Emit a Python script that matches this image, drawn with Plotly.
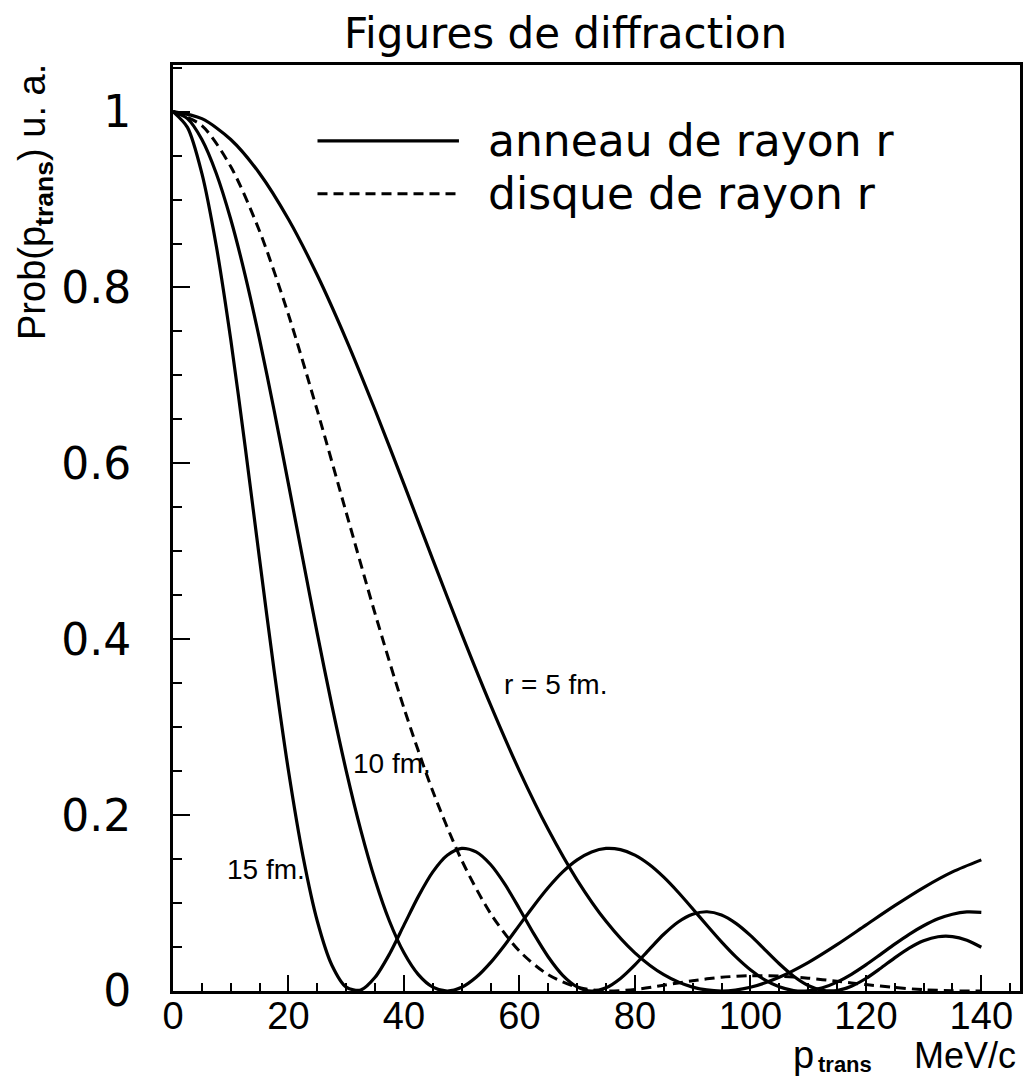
import plotly.graph_objects as go

# ---- data ----
q_fine = [0, 2.5, 5, 7.5, 10, 12.5, 15, 17.5, 20, 22.5, 25, 27.5, 30, 32.5, 35, 37.5,
          40, 42.5, 45, 47.5, 50, 52.5, 55, 57.5, 60, 62.5, 65, 67.5, 70, 72.5, 75,
          77.5, 80, 82.5, 85, 87.5, 90, 92.5, 95, 97.5, 100, 102.5, 105, 107.5, 110,
          112.5, 115, 117.5, 120, 122.5, 125, 127.5, 130, 132.5, 135, 137.5, 140]
q_coarse = [0, 5, 10, 15, 20, 25, 30, 35, 40, 45, 50, 55, 60, 65, 70, 75, 80, 85, 90,
            95, 100, 105, 110, 115, 120, 125, 130, 135, 140]

ring_15fm = [1.0, 0.9821, 0.9297, 0.8471, 0.7408, 0.6189, 0.4906, 0.3651, 0.2504, 0.1537,
             0.0793, 0.0296, 0.0044, 0.0011, 0.0156, 0.0421, 0.0749, 0.1076, 0.1354, 0.1543,
             0.1621, 0.1582, 0.1438, 0.1212, 0.0936, 0.0649, 0.0387, 0.0179, 0.0047, 0.0000,
             0.0036, 0.0143, 0.0297, 0.0474, 0.0645, 0.0785, 0.0873, 0.0901, 0.0864, 0.0769,
             0.0632, 0.0471, 0.0310, 0.0168, 0.0063, 0.0008, 0.0006, 0.0054, 0.0142, 0.0256,
             0.0377, 0.0488, 0.0571, 0.0617, 0.0619, 0.0577, 0.0498]
ring_10fm = [1.0, 0.9920, 0.9683, 0.9297, 0.8776, 0.8139, 0.7408, 0.6607, 0.5764, 0.4906,
             0.4061, 0.3253, 0.2504, 0.1836, 0.1262, 0.0793, 0.0434, 0.0186, 0.0044, 0.0000,
             0.0042, 0.0156, 0.0323, 0.0527, 0.0749, 0.0970, 0.1176, 0.1354, 0.1491, 0.1581,
             0.1621, 0.1607, 0.1545, 0.1438, 0.1294, 0.1123, 0.0936, 0.0744, 0.0558, 0.0387,
             0.0241, 0.0126, 0.0047, 0.0006, 0.0003, 0.0036, 0.0101, 0.0190, 0.0297, 0.0414,
             0.0533, 0.0645, 0.0742, 0.0821, 0.0873, 0.0899, 0.0895]
ring_5fm = [1.0, 0.9920, 0.9683, 0.9297, 0.8776, 0.8139, 0.7408, 0.6607, 0.5764, 0.4906,
            0.4061, 0.3253, 0.2504, 0.1836, 0.1262, 0.0793, 0.0434, 0.0186, 0.0044, 0.0000,
            0.0042, 0.0156, 0.0323, 0.0527, 0.0749, 0.0970, 0.1176, 0.1354, 0.1491]
disk_10fm = [1.0, 0.9841, 0.9375, 0.8640, 0.7691, 0.6599, 0.5441, 0.4291, 0.3217, 0.2271,
             0.1487, 0.0882, 0.0454, 0.0184, 0.0044, 0.0000, 0.0018, 0.0065, 0.0117, 0.0156,
             0.0174, 0.0169, 0.0146, 0.0111, 0.0073, 0.0040, 0.0015, 0.0002, 0.0000]

x_ticks = [0, 20, 40, 60, 80, 100, 120, 140]
y_ticks = [0, 0.2, 0.4, 0.6, 0.8, 1.0]
y_ticktext = ["0", "0.2", "0.4", "0.6", "0.8", "1"]

curve_labels = [("r = 5 fm.", 56.9, 0.348), ("10 fm.", 30.9, 0.259), ("15 fm.", 9.0, 0.138)]

# ---- figure ----
fig = go.Figure()
line_solid = dict(color="black", width=3.2, shape="spline", smoothing=0.8)
fig.add_trace(go.Scatter(x=q_fine, y=ring_15fm, mode="lines", line=line_solid, showlegend=False))
fig.add_trace(go.Scatter(x=q_fine, y=ring_10fm, mode="lines", line=line_solid, showlegend=False))
fig.add_trace(go.Scatter(x=q_coarse, y=ring_5fm, mode="lines", line=line_solid, showlegend=False))
fig.add_trace(go.Scatter(x=q_coarse, y=disk_10fm, mode="lines",
                         line=dict(color="black", width=3.0, dash="10px,6px", shape="spline", smoothing=0.8),
                         showlegend=False))

sans = "Liberation Sans, Arial, sans-serif"
gothic = "DejaVu Sans, sans-serif"
tick_font_x = dict(family=sans, size=38, color="black")
tick_font_y = dict(family=gothic, size=44, color="black")

fig.update_xaxes(range=[0, 146.7], showline=True, linecolor="black", linewidth=2.6, mirror=True,
                 ticks="inside", tickvals=x_ticks, ticklen=16, tickwidth=2, tickcolor="black",
                 minor=dict(dtick=5, tick0=0, ticks="inside", ticklen=8, tickwidth=1.6, tickcolor="black"),
                 showgrid=False, zeroline=False, tickfont=tick_font_x, ticklabelstandoff=-10)
fig.update_yaxes(range=[0, 1.053], showline=True, linecolor="black", linewidth=3, mirror=True,
                 ticks="inside", tickvals=y_ticks, ticktext=y_ticktext, ticklen=17, tickwidth=2,
                 tickcolor="black",
                 minor=dict(dtick=0.05, tick0=0, ticks="inside", ticklen=9, tickwidth=1.6, tickcolor="black"),
                 showgrid=False, zeroline=False, tickfont=tick_font_y, ticklabelstandoff=30)

annotations = [
    dict(text="Figures de diffraction", x=0.4635, y=1.034, xref="paper", yref="paper",
         xanchor="center", yanchor="middle", showarrow=False, font=dict(family=gothic, size=42, color="black")),
    dict(text="Prob(p<sub><b>trans</b></sub>) u. a.", x=-0.163, y=0.852, xref="paper", yref="paper",
         xanchor="center", yanchor="middle", textangle=-90, showarrow=False,
         font=dict(family=sans, size=38, color="black")),
    # x-axis title: p_trans MeV/c (subscript drawn as its own small bold text)
    dict(text="MeV/c", x=0.9976, y=-0.0935, xref="paper", yref="paper",
         xanchor="right", yanchor="bottom", showarrow=False, font=dict(family=sans, size=36, color="black")),
    dict(text="p", x=0.7588, y=-0.0935, xref="paper", yref="paper",
         xanchor="right", yanchor="bottom", showarrow=False, font=dict(family=sans, size=38, color="black")),
    dict(text="<b>trans</b>", x=0.7595, y=-0.0945, xref="paper", yref="paper",
         xanchor="left", yanchor="bottom", showarrow=False, font=dict(family=sans, size=22, color="black")),
    dict(text="anneau de rayon r", x=0.37, y=0.918, xref="paper", yref="paper",
         xanchor="left", yanchor="middle", showarrow=False, font=dict(family=gothic, size=44, color="black")),
    dict(text="disque de rayon r", x=0.37, y=0.861, xref="paper", yref="paper",
         xanchor="left", yanchor="middle", showarrow=False, font=dict(family=gothic, size=44, color="black")),
]
for txt, xv, yv in curve_labels:
    annotations.append(dict(text=txt, x=xv, y=yv, xref="x", yref="y", xanchor="left", yanchor="middle",
                            showarrow=False, font=dict(family=sans, size=28, color="black")))

shapes = [
    dict(type="line", xref="paper", yref="paper", x0=0.1706, x1=0.3376, y0=0.918, y1=0.918,
         line=dict(color="black", width=3.2)),
    dict(type="line", xref="paper", yref="paper", x0=0.1706, x1=0.3376, y0=0.861, y1=0.861,
         line=dict(color="black", width=3.0, dash="10px,6px")),
]

fig.update_layout(width=1028, height=1080, margin=dict(l=173, r=5, t=65, b=89),
                  paper_bgcolor="white", plot_bgcolor="white",
                  annotations=annotations, shapes=shapes, showlegend=False)

fig.write_html("out.html")
